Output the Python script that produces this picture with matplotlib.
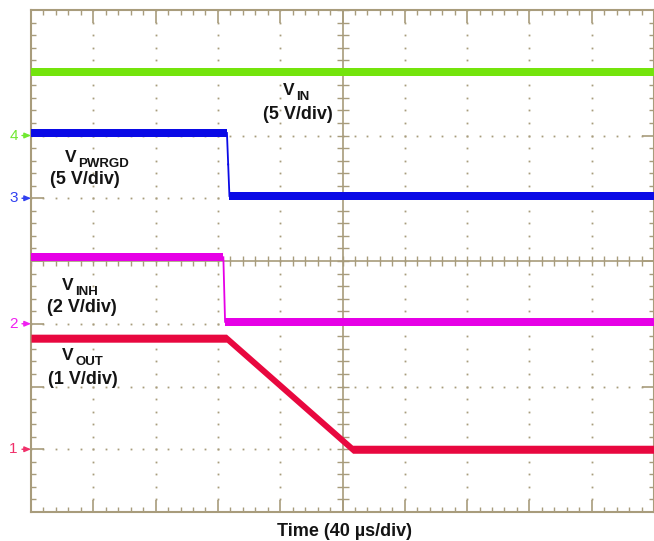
import numpy as np
import matplotlib
matplotlib.use("Agg")
import matplotlib.pyplot as plt

plt.rcParams['font.family'] = ['Liberation Sans', 'DejaVu Sans']

# scope settings
us_per_div = 40
# channel: ground offset in div, V/div
ch_offset = {1: 1.0, 2: 3.0, 3: 5.0, 4: 6.0}
ch_vdiv = {1: 1.0, 2: 2.0, 3: 5.0, 4: 5.0}
ch_color = {1: '#e8083f', 2: '#e600e6', 3: '#0a0ae6', 4: '#74e40c'}
marker_color = {1: '#f0306a', 2: '#f020f0', 3: '#3040f0', 4: '#70e830'}

# traces (time in us, level in V)
vin_t = [0, 400]
vin_v = [5.05, 5.05]

pwrgd_t = [0, 125.8, 126.6, 127.4, 400]
pwrgd_v = [5.2, 5.2, 2.7, 0.18, 0.18]

inh_t = [0, 123.5, 124.6, 400]
inh_v = [2.12, 2.12, 0.06, 0.06]

vout_t = [0, 125.5, 206.5, 400]
vout_v = [1.77, 1.77, 0.0, 0.0]

tan = '#a89c7c'
W, H = 654, 541

fig = plt.figure(figsize=(W/100, H/100), dpi=100)
ax = fig.add_axes([31/W, 29/H, 623/W, 502/H])
ax.set_xlim(0, 10)
ax.set_ylim(0, 8)

for s in ax.spines.values():
    s.set_color(tan)
    s.set_linewidth(1.5)
ax.set_xticks(range(11))
ax.set_yticks(range(9))
ax.set_xticks(np.arange(0, 10.01, 0.2), minor=True)
ax.set_yticks(np.arange(0, 8.01, 0.2), minor=True)
ax.tick_params(which='both', direction='in', top=True, right=True, color=tan,
               labelbottom=False, labelleft=False)
ax.tick_params(which='major', length=9, width=1.2)
ax.tick_params(which='minor', length=3.6, width=1.0)

# dotted graticule
minor_x = np.arange(0, 10.01, 0.2)
minor_y = np.arange(0, 8.01, 0.2)
for xm in [1, 2, 3, 4, 6, 7, 8, 9]:
    ax.plot(np.full_like(minor_y, xm), minor_y, ls='none', marker='s', ms=1.3,
            mew=0, color=tan, zorder=1)
for ym in [1, 2, 3, 5, 6, 7]:
    ax.plot(minor_x, np.full_like(minor_x, ym), ls='none', marker='s', ms=1.3,
            mew=0, color=tan, zorder=1)

# center cross with ticks
ax.axvline(5, color=tan, lw=1.2, zorder=1)
ax.axhline(4, color=tan, lw=1.2, zorder=1)
ax.plot(minor_x, np.full_like(minor_x, 4), ls='none', marker='|', ms=7,
        mew=1.0, color=tan, zorder=1)
ax.plot(np.full_like(minor_y, 5), minor_y, ls='none', marker='_', ms=8.5,
        mew=1.0, color=tan, zorder=1)

half = 0.064  # half height of the noisy trace band, in div


def draw_trace(t, v, ch):
    x = np.asarray(t, float) / us_per_div
    y = ch_offset[ch] + np.asarray(v, float) / ch_vdiv[ch]
    c = ch_color[ch]
    run = [0]

    def flush(run):
        if len(run) > 1:
            ax.fill_between(x[run], y[run] - half, y[run] + half, color=c,
                            lw=0, zorder=3)

    for i in range(len(x) - 1):
        dx, dy = x[i+1] - x[i], y[i+1] - y[i]
        if abs(dy) > 10 * abs(dx):
            # steep edge: thin line
            flush(run)
            ax.plot(x[i:i+2], y[i:i+2], color=c, lw=1.3, zorder=3)
            run = [i + 1]
        else:
            run.append(i + 1)
    flush(run)


draw_trace(vin_t, vin_v, 4)
draw_trace(pwrgd_t, pwrgd_v, 3)
draw_trace(inh_t, inh_v, 2)
draw_trace(vout_t, vout_v, 1)

# channel ground markers
for ch in [4, 3, 2, 1]:
    ax.annotate(str(ch), xy=(0, ch_offset[ch]), xytext=(-9.5, 0),
                textcoords='offset points', ha='right', va='center',
                fontsize=11, color=marker_color[ch], annotation_clip=False,
                arrowprops=dict(arrowstyle='-|>,head_length=0.35,head_width=0.15',
                                color=marker_color[ch], lw=1, shrinkA=1, shrinkB=0))


def px(x, y):
    return x / W, 1 - y / H


# trace labels: subscript, V left/baseline, scale text, scale left/center (pixels)
labels = [
    ('IN', (283, 95), '(5 V/div)', (263, 114.5)),
    ('PWRGD', (65, 162), '(5 V/div)', (50, 179.5)),
    ('INH', (62, 290), '(2 V/div)', (47, 307.5)),
    ('OUT', (62, 360), '(1 V/div)', (48, 379.5)),
]
ink = '#141414'
for sub, (vx, vy), scale, spos in labels:
    fig.text(*px(vx, vy), 'V', ha='left', va='baseline', fontsize=12.5,
             fontweight='bold', color=ink)
    fig.text(*px(vx + 13, vy + 5), sub, ha='left', va='baseline',
             fontsize=9.5, fontweight='bold', color=ink)
    fig.text(*px(*spos), scale, ha='left', va='center', fontsize=13,
             fontweight='bold', color=ink)

fig.text(*px(345, 531), 'Time (40 µs/div)', ha='center', va='center',
         fontsize=13, fontweight='bold', color=ink)

fig.savefig('out.png', dpi=100)
